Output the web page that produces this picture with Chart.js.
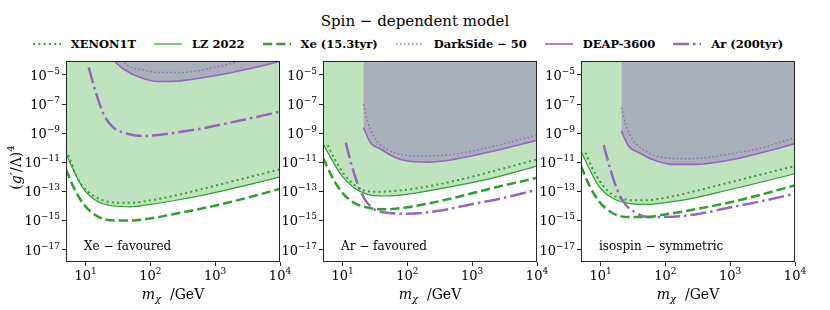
<!DOCTYPE html>
<html>
<head>
<meta charset="utf-8">
<script src="https://cdn.jsdelivr.net/npm/chart.js@4.4.1/dist/chart.umd.min.js"></script>
<style>
  body { margin: 0; background: #fff; width: 830px; height: 310px; position: relative; overflow: hidden;
         font-family: "DejaVu Serif", "Liberation Serif", serif; }
  canvas { position: absolute; top: 0; }
  #title { position: absolute; top: 10px; left: 0; width: 830px; text-align: center; font-size: 15px; line-height: 22px; }
  #legend { position: absolute; top: 36px; left: 0; width: 816px; display: flex; justify-content: center; gap: 18px; }
  .item { height: 16px; font-size: 11.5px; font-weight: bold; white-space: nowrap; display: flex; align-items: center; }
  .item svg { margin-right: 10px; }
</style>
</head>
<body>
<div id="title">Spin − dependent model</div>
<div id="legend"></div>
<canvas id="xeFav" width="300" height="310" style="left:0px"></canvas>
<canvas id="arFav" width="300" height="310" style="left:257px"></canvas>
<canvas id="isoSym" width="300" height="310" style="left:515px"></canvas>
<script>
// axes
const xMin = 5, xMax = 1e4;
const yMin = 1.4e-18, yMax = 9e-5;
const xTicks = [10, 100, 1000, 10000];
const yTicks = [1e-17, 1e-15, 1e-13, 1e-11, 1e-9, 1e-7, 1e-5];

// series (same order everywhere)
const seriesNames = ["XENON1T", "LZ 2022", "Xe (15.3tyr)", "DarkSide − 50", "DEAP-3600", "Ar (200tyr)"];
const seriesColors = ["#2ca02c", "#2ca02c", "#2ca02c", "#9467bd", "#9467bd", "#9467bd"];
const seriesWidths = [2, 1.2, 2.5, 1.5, 1.6, 2.5];
const seriesDashes = [[2, 3.3], [], [9.25, 4], [1.5, 2.5], [], [16, 4, 2.5, 4]];

// Xe - favoured
const xeFavXenon1tM = [5.4, 5.9, 7.4, 10.6, 17, 31, 49, 100, 290, 940, 3100, 10000];
const xeFavXenon1t = [3.2e-11, 1.2e-11, 8.7e-13, 1.05e-13, 2.8e-14, 1.66e-14, 1.66e-14, 2.4e-14, 6.2e-14, 2.3e-13, 8.7e-13, 3.2e-12];
const xeFavLzM = [5, 6.6, 9.4, 15, 27, 49, 100, 290, 940, 3100, 10000];
const xeFavLz = [3.9e-11, 2.5e-12, 1.35e-13, 2.14e-14, 9.8e-15, 8.7e-15, 1.26e-14, 2.75e-14, 7.9e-14, 2.7e-13, 1.0e-12];
const xeFavXe15 = [3.2e-12, 1.78e-13, 1.26e-14, 2.0e-15, 1.0e-15, 1.0e-15, 1.38e-15, 3.4e-15, 9.8e-15, 3.6e-14, 1.5e-13];
const xeFavDarkSideM = [32, 45, 70, 141, 288, 940, 2130, 2700];
const xeFavDarkSide = [1.6e-4, 4.2e-5, 2.45e-5, 1.45e-5, 1.45e-5, 3.2e-5, 8.3e-5, 1.4e-4];
const xeFavDeapM = [24, 39, 70, 134, 290, 940, 3080, 10000];
const xeFavDeap = [1.6e-4, 2.45e-5, 6.6e-6, 3.5e-6, 3.9e-6, 8.5e-6, 2.45e-5, 8.3e-5];
const xeFavArM = [11.2, 14.2, 19, 27, 44, 79, 160, 520, 1700, 10000];
const xeFavAr = [3.2e-5, 7.9e-7, 2.0e-8, 2.4e-9, 9.1e-10, 6.3e-10, 8.3e-10, 1.8e-9, 5.2e-9, 3.0e-8];

// Ar - favoured
const arFavXenon1tM = [5.9, 7.4, 10.6, 15, 21, 35, 62, 160, 525, 1700, 10000];
const arFavXenon1t = [1.5e-10, 2.0e-11, 1.48e-12, 3.0e-13, 1.15e-13, 9.3e-14, 1.05e-13, 1.78e-13, 5.1e-13, 1.9e-12, 1.58e-11];
const arFavLzM = [5, 6.6, 9.4, 15, 24.3, 39, 79, 204, 525, 1700, 10000];
const arFavLz = [1.9e-10, 2.0e-11, 1.48e-12, 1.78e-13, 6.2e-14, 4.8e-14, 5.5e-14, 1.05e-13, 2.3e-13, 6.6e-13, 5.5e-12];
const arFavXe15M = [5, 6.6, 9.4, 15, 24.3, 44, 89, 204, 525, 1700, 10000];
const arFavXe15 = [2.0e-11, 1.48e-12, 1.05e-13, 1.66e-14, 7.6e-15, 5.8e-15, 7.4e-15, 1.41e-14, 3.6e-14, 1.35e-13, 8.7e-13];
const arFavDarkSideM = [21, 24.3, 31, 49, 89, 160, 525, 1700, 10000];
const arFavDarkSide = [9.5e-8, 6.8e-9, 4.9e-10, 7.8e-11, 3.2e-11, 2.7e-11, 3.5e-11, 1.0e-10, 7.4e-10];
const arFavDeapM = [21, 27, 39, 62, 100, 204, 525, 1700, 10000];
const arFavDeap = [2.4e-9, 2.2e-10, 7.8e-11, 2.3e-11, 1.2e-11, 1.02e-11, 1.58e-11, 4.6e-11, 3.2e-10];
const arFavArM = [11.2, 14.2, 18, 23, 31, 49, 100, 288, 940, 3100, 9000];
const arFavAr = [2.2e-10, 4.2e-12, 1.78e-13, 2.14e-14, 5.8e-15, 3.4e-15, 2.9e-15, 4.4e-15, 1.26e-14, 3.6e-14, 1.15e-13];

// isospin - symmetric
const isoXenon1tM = [5.9, 7.4, 10.6, 15, 24.3, 44, 100, 288, 940, 3100, 10000];
const isoXenon1t = [4.6e-11, 4.2e-12, 3.0e-13, 6.2e-14, 2.8e-14, 2.4e-14, 3.6e-14, 1.05e-13, 3.9e-13, 1.48e-12, 5.5e-12];
const isoLzM = [5, 6.6, 9.4, 15, 27, 49, 100, 288, 940, 3100, 10000];
const isoLz = [5.9e-11, 4.2e-12, 2.3e-13, 3.6e-14, 1.48e-14, 1.26e-14, 1.66e-14, 3.6e-14, 1.23e-13, 4.4e-13, 1.62e-12];
const isoXe15 = [5.5e-12, 3.0e-13, 2.14e-14, 3.4e-15, 1.7e-15, 1.7e-15, 2.6e-15, 5.8e-15, 1.66e-14, 6.2e-14, 2.6e-13];
const isoDarkSideM = [21, 24.3, 31, 49, 100, 229, 940, 3100, 10000];
const isoDarkSide = [5.6e-8, 4.1e-9, 3.7e-10, 5.9e-11, 2.0e-11, 1.74e-11, 3.5e-11, 1.0e-10, 4.9e-10];
const isoDeapM = [21, 27, 39, 62, 126, 288, 940, 3100, 10000];
const isoDeap = [1.41e-9, 1.29e-10, 4.6e-11, 1.58e-11, 7.1e-12, 7.1e-12, 1.35e-11, 4.6e-11, 1.9e-10];
const isoArM = [11.2, 14.2, 18, 24.3, 35, 55, 100, 288, 940, 3100, 9000];
const isoAr = [1.5e-10, 3.2e-12, 1.35e-13, 1.26e-14, 3.4e-15, 1.7e-15, 1.7e-15, 2.6e-15, 7.4e-15, 2.14e-14, 6.2e-14];

const greenFill = "rgba(44, 160, 44, 0.3)";
const greyFill = "rgb(169, 175, 187)";
const SERIF = '"DejaVu Serif", "Liberation Serif", serif';

function pts(m, v) {
  return m.map((x, i) => ({ x: x, y: v[i] }));
}

function drawRuns(ctx, runs, x, y, align) {
  let w = 0;
  runs.forEach(r => { ctx.font = r.font; r.w = ctx.measureText(r.t).width; w += r.w; });
  let cx = align === "right" ? x - w : align === "center" ? x - w / 2 : x;
  runs.forEach(r => { ctx.font = r.font; ctx.fillText(r.t, cx, y + (r.dy || 0)); cx += r.w; });
}

function powRuns(v) {
  const e = Math.round(Math.log10(v));
  return [
    { t: "10", font: "13px " + SERIF },
    { t: e < 0 ? "−" + (-e) : String(e), font: "9px " + SERIF, dy: -6 }
  ];
}

const texPlugin = {
  id: "tex",
  afterDraw(chart, args, opts) {
    const { ctx, chartArea: a, scales: { x, y } } = chart;
    ctx.save();
    ctx.fillStyle = "#000";
    ctx.textAlign = "left";
    ctx.textBaseline = "alphabetic";
    ctx.strokeStyle = "#262626";
    ctx.lineWidth = 1;
    ctx.strokeRect(a.left + 0.5, a.top + 0.5, a.right - a.left - 1, a.bottom - a.top - 1);

    xTicks.forEach(v => drawRuns(ctx, powRuns(v), x.getPixelForValue(v), a.bottom + 18, "center"));
    yTicks.forEach(v => drawRuns(ctx, powRuns(v), a.left - 6, y.getPixelForValue(v) + 5, "right"));

    drawRuns(ctx, [
      { t: "m", font: "italic 14px " + SERIF },
      { t: "χ", font: "italic 10px " + SERIF, dy: 3 },
      { t: "  /GeV", font: "14px " + SERIF }
    ], (a.left + a.right) / 2, a.bottom + 37, "center");

    ctx.font = "12px " + SERIF;
    ctx.fillText(opts.note, a.left + 18, a.bottom - 12);

    if (opts.yTitle) {
      ctx.translate(21, (a.top + a.bottom) / 2 + 6);
      ctx.rotate(-Math.PI / 2);
      drawRuns(ctx, [
        { t: "(", font: "14px " + SERIF },
        { t: "g", font: "italic 14px " + SERIF },
        { t: "′/Λ)", font: "14px " + SERIF },
        { t: "4", font: "10px " + SERIF, dy: -7 }
      ], 0, 0, "center");
    }
    ctx.restore();
  }
};

function makePanel(id, note, yTitle, curves) {
  const datasets = curves.map((c, i) => ({
    label: seriesNames[i],
    data: pts(c[0], c[1]),
    borderColor: seriesColors[i],
    borderWidth: seriesWidths[i],
    borderDash: seriesDashes[i],
    fill: i === 1 || i === 4 ? "end" : false,
    backgroundColor: i === 1 ? greenFill : i === 4 ? greyFill : "transparent",
    order: i === 1 ? 2 : i === 4 ? 1 : 0,
    pointRadius: 0,
    cubicInterpolationMode: "monotone"
  }));
  const axisCommon = {
    type: "logarithmic",
    ticks: { display: false },
    grid: { drawOnChartArea: false, tickLength: 4, color: "#262626", lineWidth: 1 },
    border: { display: false }
  };
  return new Chart(document.getElementById(id), {
    type: "line",
    data: { datasets: datasets },
    plugins: [texPlugin],
    options: {
      responsive: false,
      animation: false,
      events: [],
      layout: { padding: { top: 61, right: 20, left: 0, bottom: 0 } },
      plugins: {
        legend: { display: false },
        tooltip: { enabled: false },
        filler: { drawTime: "beforeDatasetsDraw" },
        tex: { note: note, yTitle: yTitle }
      },
      scales: {
        x: Object.assign({}, axisCommon, {
          min: xMin, max: xMax,
          afterBuildTicks: s => { s.ticks = xTicks.map(v => ({ value: v })); },
          afterFit: s => { s.height = 48; }
        }),
        y: Object.assign({}, axisCommon, {
          min: yMin, max: yMax,
          afterBuildTicks: s => { s.ticks = yTicks.map(v => ({ value: v })); },
          afterFit: s => { s.width = 66; }
        })
      }
    }
  });
}

makePanel("xeFav", "Xe − favoured", true, [
  [xeFavXenon1tM, xeFavXenon1t], [xeFavLzM, xeFavLz], [xeFavLzM, xeFavXe15],
  [xeFavDarkSideM, xeFavDarkSide], [xeFavDeapM, xeFavDeap], [xeFavArM, xeFavAr]
]);
makePanel("arFav", "Ar − favoured", false, [
  [arFavXenon1tM, arFavXenon1t], [arFavLzM, arFavLz], [arFavXe15M, arFavXe15],
  [arFavDarkSideM, arFavDarkSide], [arFavDeapM, arFavDeap], [arFavArM, arFavAr]
]);
makePanel("isoSym", "isospin − symmetric", false, [
  [isoXenon1tM, isoXenon1t], [isoLzM, isoLz], [isoLzM, isoXe15],
  [isoDarkSideM, isoDarkSide], [isoDeapM, isoDeap], [isoArM, isoAr]
]);

// legend
const legend = document.getElementById("legend");
seriesNames.forEach((name, i) => {
  const item = document.createElement("div");
  item.className = "item";
  const dash = seriesDashes[i].length ? ' stroke-dasharray="' + seriesDashes[i].join(" ") + '"' : "";
  item.innerHTML = '<svg width="28" height="10"><line x1="0" y1="5" x2="28" y2="5" stroke="' + seriesColors[i] +
    '" stroke-width="' + seriesWidths[i] + '"' + dash + '/></svg><span>' + name + '</span>';
  legend.appendChild(item);
});
</script>
</body>
</html>
